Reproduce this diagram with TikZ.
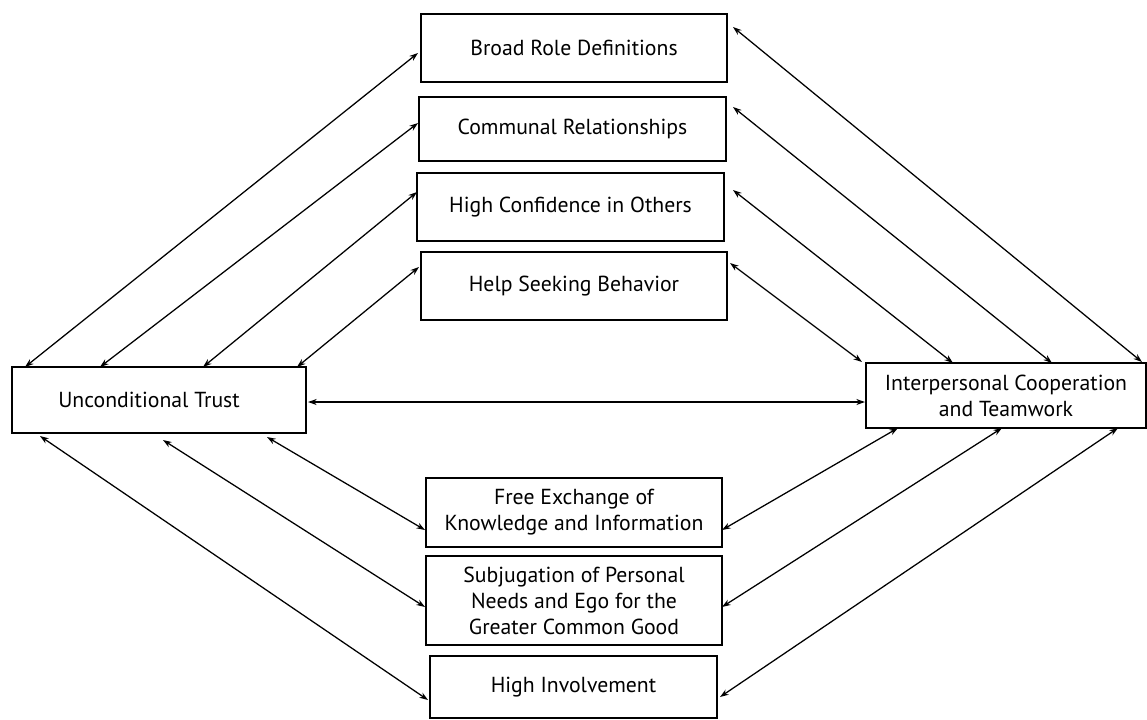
\documentclass[tikz,border=0pt]{standalone}
\usepackage{fontspec}
\setmainfont{PT Sans}
\usetikzlibrary{calc,arrows.meta}
\begin{document}
\begin{tikzpicture}[x=0.75pt,y=-0.75pt,
  box/.style={draw,line width=1.1pt,inner sep=0pt,outer sep=0pt,align=center,
    font=\fontsize{16.3}{19.5}\selectfont},
  link/.style={line width=0.95pt,{Stealth[length=6.5pt,width=4.5pt]}-{Stealth[length=6.5pt,width=4.5pt]}}]
\useasboundingbox (0,0) rectangle (1147,719);
% side boxes
\node[box,minimum width={294*0.75pt},minimum height={66*0.75pt}] (ut) at (159,400) {Unconditional Trust\hspace*{15pt}};
\node[box,minimum width={280*0.75pt},minimum height={65*0.75pt}] (ic) at (1006,395.5) {Interpersonal Cooperation\\and Teamwork};
% upper column
\node[box,minimum width={306*0.75pt},minimum height={68*0.75pt}] (broad) at (574,48) {Broad Role Definitions};
\node[box,minimum width={307*0.75pt},minimum height={64*0.75pt}] (comm) at (572.5,129) {Communal Relationships};
\node[box,minimum width={307*0.75pt},minimum height={68*0.75pt}] (conf) at (570.5,207) {High Confidence in Others};
\node[box,minimum width={306*0.75pt},minimum height={68*0.75pt}] (help) at (574,286) {Help Seeking Behavior};
% lower column
\node[box,minimum width={296*0.75pt},minimum height={69*0.75pt}] (free) at (574,512.5) {Free Exchange of\\Knowledge and Information};
\node[box,minimum width={296*0.75pt},minimum height={89*0.75pt}] (subj) at (574,600.5) {Subjugation of Personal\\Needs and Ego for the\\Greater Common Good};
\node[box,minimum width={287*0.75pt},minimum height={62*0.75pt}] (inv) at (573.5,687) {High Involvement};
% trust to upper column
\draw[link] ($(ut.north west)+(13,0)$) -- ($(broad.north west)+(-3,39)$);
\draw[link] ($(ut.north west)+(88,0)$) -- ($(comm.north west)+(-1,26)$);
\draw[link] ($(ut.north west)+(191,0)$) -- ($(conf.north west)+(0,19)$);
\draw[link] ($(ut.north west)+(285,0)$) -- ($(help.north west)+(-2,15)$);
% upper column to cooperation
\draw[link] ($(broad.north east)+(6,13)$) -- ($(ic.north west)+(276,-1)$);
\draw[link] ($(comm.north east)+(7,10)$) -- ($(ic.north west)+(186,0)$);
\draw[link] ($(conf.north east)+(9,17)$) -- ($(ic.north west)+(87,0)$);
\draw[link] ($(help.north east)+(3,11)$) -- ($(ic.north west)+(-4,-1)$);
% trust to cooperation
\draw[link] ($(ut.east)+(2,2)$) -- ($(ic.west)+(-1,6.5)$);
% trust to lower column
\draw[link] ($(ut.south west)+(28,3)$) -- ($(inv.north west)+(-2,44)$);
\draw[link] ($(ut.south west)+(151,7)$) -- ($(subj.north west)+(-1,51)$);
\draw[link] ($(ut.south west)+(255,4)$) -- ($(free.north west)+(-1,52)$);
% lower column to cooperation
\draw[link] ($(free.north east)+(0,52)$) -- ($(ic.south west)+(32,0)$);
\draw[link] ($(subj.north east)+(0,51)$) -- ($(ic.south west)+(136,0)$);
\draw[link] ($(inv.north east)+(3,41)$) -- ($(ic.south west)+(252,0)$);
\end{tikzpicture}
\end{document}
